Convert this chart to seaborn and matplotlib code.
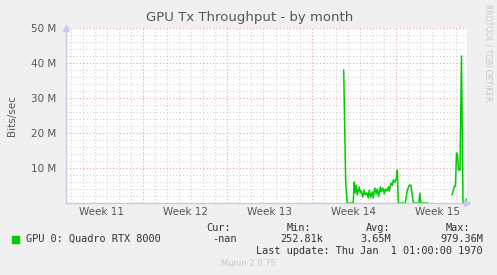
import numpy as np
import pandas as pd
import matplotlib
matplotlib.use("Agg")
import matplotlib.pyplot as plt
import matplotlib.ticker as mticker
import seaborn as sns

# ---- data (x in hours from left edge of graph, values in Mbit/s) ----
seg1_hours = [554, 558, 561, 573, 575, 577, 579, 581, 585, 587, 589, 592, 595, 597,
              600, 603, 605, 608, 611, 613, 616, 619, 621, 624, 627, 629, 632, 635,
              637, 640, 643, 645, 648, 651, 653, 656, 659, 661, 663, 677, 681, 685,
              688, 693, 704, 706, 708, 722]
seg1_values = [38.0, 5.7, 0.0, 0.0, 6.0, 2.9, 5.1, 2.3, 4.6, 3.0, 3.4, 1.7, 3.7, 2.3,
               2.9, 1.4, 3.7, 1.6, 3.2, 1.4, 4.3, 2.6, 4.0, 1.9, 4.6, 3.2, 4.3, 2.6,
               4.0, 3.4, 4.6, 3.4, 5.7, 5.0, 6.6, 5.9, 7.0, 9.3, 0.0, 0.0, 3.7, 5.1,
               5.1, 0.0, 0.0, 2.8, 0.0, 0.0]
seg2_hours = [770, 775, 777, 779, 781, 783, 786, 789, 792, 797, 799]
seg2_values = [2.3, 4.8, 4.8, 14.3, 14.0, 9.4, 9.4, 42.0, 0.0, 0.0, 1.1]

week_labels = ["Week 11", "Week 12", "Week 13", "Week 14", "Week 15"]
week_bounds = [154, 322, 490, 658]          # hours
x_max = 800
y_max = 50

legend_name = "GPU 0: Quadro RTX 8000"
stat_heads = ["Cur:", "Min:", "Avg:", "Max:"]
stat_vals = ["-nan", "252.81k", "3.65M", "979.36M"]

df = pd.concat([
    pd.DataFrame({"h": seg1_hours, "v": seg1_values, "seg": 1}),
    pd.DataFrame({"h": seg2_hours, "v": seg2_values, "seg": 2}),
])

sns.set_theme(style="white")
plt.rcParams["font.family"] = ["DejaVu Sans"]

W, H = 497, 275
fig = plt.figure(figsize=(W / 100, H / 100), dpi=100, facecolor="#F0F0F0")
ax = fig.add_axes([66 / W, (H - 203) / H, 401 / W, 175 / H])
ax.set_facecolor("white")

green = "#00CC00"
sns.lineplot(data=df, x="h", y="v", units="seg", estimator=None, color=green,
             linewidth=1.1, ax=ax, legend=False)

ax.set_xlim(0, x_max)
ax.set_ylim(0, y_max)

# ticks / grid
ax.yaxis.set_major_locator(mticker.MultipleLocator(10))
ax.yaxis.set_minor_locator(mticker.MultipleLocator(2))
ax.yaxis.set_major_formatter(mticker.FuncFormatter(lambda v, p: "" if v == 0 else f"{v:.0f} M"))
ax.xaxis.set_major_locator(mticker.FixedLocator(week_bounds))
ax.xaxis.set_minor_locator(mticker.MultipleLocator(24, offset=10))
ax.xaxis.set_major_formatter(mticker.NullFormatter())

red_grid = "#E3A3A3"
grey_grid = "#D2D2D2"
ax.grid(True, which="minor", color=grey_grid, linestyle=(0, (1, 2)), linewidth=0.8)
ax.grid(True, which="major", color=red_grid, linestyle=(0, (1, 2)), linewidth=0.8)
ax.set_axisbelow(True)

ax.tick_params(axis="both", which="major", length=2, width=0.8, color=red_grid,
               direction="out", labelsize=7.5, labelcolor="#555555", pad=4)
ax.tick_params(axis="both", which="minor", length=2, width=0.8, color=grey_grid,
               direction="out")
ax.tick_params(axis="y", which="major", pad=5)

for s in ["top", "right"]:
    ax.spines[s].set_visible(False)
axis_col = "#C8C8F0"
for s in ["left", "bottom"]:
    ax.spines[s].set_color(axis_col)
    ax.spines[s].set_linewidth(1.0)
ax.plot([1.0], [0], marker=">", color=axis_col, markersize=4, transform=ax.transAxes,
        clip_on=False)
ax.plot([0], [1.0], marker="^", color=axis_col, markersize=4, transform=ax.transAxes,
        clip_on=False)

# week labels centered between boundaries
sec = ax.secondary_xaxis("bottom")
centers = [week_bounds[0] - 84] + [b + 84 for b in week_bounds]
sec.set_xticks(centers)
sec.set_xticklabels(week_labels)
sec.tick_params(length=0, labelsize=7.5, labelcolor="#555555", pad=3)
sec.spines["bottom"].set_visible(False)

ax.set_xlabel("")
ax.set_ylabel("")

# texts
tc = "#555555"
fig.text(250 / W, 1 - 18 / H, "GPU Tx Throughput - by month", ha="center", va="center",
         fontsize=9.5, color=tc)
fig.text(12 / W, 1 - 116 / H, "Bits/sec", rotation=90, ha="center", va="center",
         fontsize=7.5, color=tc)
fig.text(488 / W, 1 - 53 / H, "RRDTOOL / TOBI OETIKER", rotation=270, ha="center",
         va="center", fontsize=5.5, color="#C8C8C8")

mono = "DejaVu Sans Mono"
fs = 7.4
fig.patches.append(plt.Rectangle((12 / W, 1 - 243 / H), 7 / W, 7 / H, transform=fig.transFigure,
                                 color=green, figure=fig))
fig.text(26 / W, 1 - 239 / H, legend_name, ha="left", va="center", family=mono,
         fontsize=fs, color="#333333")
for txt, xr in zip(stat_heads, [231, 311, 390, 470]):
    fig.text(xr / W, 1 - 228 / H, txt, ha="right", va="center", family=mono, fontsize=fs,
             color="#333333")
for txt, xr in zip(stat_vals, [237, 323, 391, 483]):
    fig.text(xr / W, 1 - 239 / H, txt, ha="right", va="center", family=mono, fontsize=fs,
             color="#333333")
fig.text(483 / W, 1 - 251 / H, "Last update: Thu Jan  1 01:00:00 1970", ha="right",
         va="center", family=mono, fontsize=fs, color="#333333")
fig.text(248 / W, 1 - 264 / H, "Munin 2.0.75", ha="center", va="center", fontsize=6,
         color="#C8C8C8")

fig.savefig("out.png", dpi=100, facecolor=fig.get_facecolor())
